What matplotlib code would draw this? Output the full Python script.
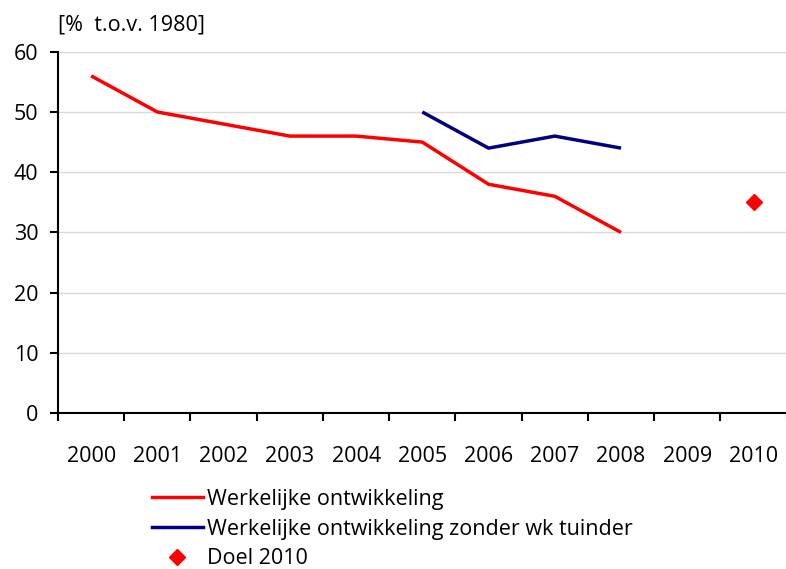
import numpy as np
import matplotlib.pyplot as plt
from matplotlib.lines import Line2D

plt.rcParams['font.family'] = ['Open Sans', 'DejaVu Sans']

years = ['2000', '2001', '2002', '2003', '2004', '2005', '2006', '2007', '2008', '2009', '2010']
red_vals = [56, 50, 48, 46, 46, 45, 38, 36, 30]          # 2000-2008
blue_vals = [50, 44, 46, 44]                              # 2005-2008
doel_val = 35                                             # 2010

fs = 15.5
fig = plt.figure(figsize=(7.86, 5.69), dpi=100)
ax = fig.add_axes([0.0738, 0.274, 0.927, 0.635])

x = np.arange(len(years))
ax.plot(x[:len(red_vals)], red_vals, color='#ff0000', lw=2.5, solid_capstyle='butt')
ax.plot(x[5:5 + len(blue_vals)], blue_vals, color='#000080', lw=2.5, solid_capstyle='butt')
ax.plot([x[10]], [doel_val], marker='D', color='#ff0000', ms=8, ls='none')

ax.set_xlim(-0.5, 10.5)
ax.set_ylim(0, 60)
ax.set_yticks(range(0, 61, 10))
ax.yaxis.grid(True, color='#d9d9d9', lw=1)
ax.set_axisbelow(True)

ax.set_xticks(np.arange(-0.5, 10.6, 1))
ax.set_xticklabels([])
ax.set_xticks(x, minor=True)
ax.set_xticklabels(years, minor=True)
ax.tick_params(axis='x', which='minor', length=0, pad=24, labelsize=fs)
ax.tick_params(axis='x', which='major', length=6, width=1.5, direction='out')
ax.tick_params(axis='y', length=6, width=1.5, direction='out', labelsize=fs, pad=8)

for s in ['top', 'right']:
    ax.spines[s].set_visible(False)
ax.spines['left'].set_linewidth(1.5)
ax.spines['bottom'].set_linewidth(1.5)

fig.text(58 / 786, 1 - 25 / 569, '[%  t.o.v. 1980]', fontsize=fs, va='center', ha='left')

handles = [Line2D([], [], color='#ff0000', lw=2.5),
           Line2D([], [], color='#000080', lw=2.5),
           Line2D([], [], color='#ff0000', marker='D', ms=8, ls='none')]
labels = ['Werkelijke ontwikkeling', 'Werkelijke ontwikkeling zonder wk tuinder', 'Doel 2010']
fig.legend(handles, labels, loc='upper left', bbox_to_anchor=(152 / 786, 1 - 489 / 569),
           frameon=False, fontsize=fs, handlelength=2.35, handletextpad=0.2, labelspacing=0.4,
           borderpad=0, borderaxespad=0)

fig.savefig('out.png', dpi=100)
